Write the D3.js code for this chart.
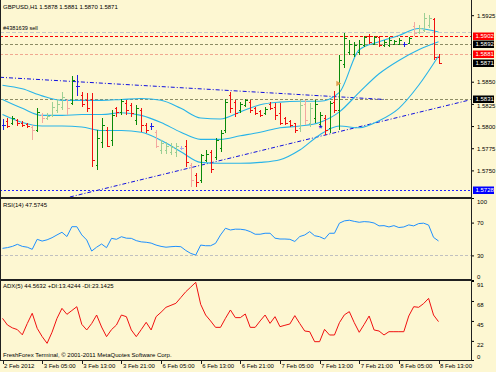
<!DOCTYPE html>
<html>
<head>
<meta charset="utf-8">
<script src="https://cdn.jsdelivr.net/npm/d3@7/dist/d3.min.js"></script>
<style>
  body { margin: 0; background: #fdf7d2; }
  svg { display: block; font-family: "Liberation Sans", Arial, sans-serif; }
</style>
</head>
<body>
<svg id="chart" width="496" height="372"></svg>
<script>
// ---- data (GBPUSD H1, 2 Feb 21:00 .. 8 Feb 13:00) ----
const dateLabels = ["2 Feb 2012", "3 Feb 05:00", "3 Feb 13:00", "3 Feb 21:00", "6 Feb 05:00", "6 Feb 13:00",
                    "6 Feb 21:00", "7 Feb 05:00", "7 Feb 13:00", "7 Feb 21:00", "8 Feb 05:00", "8 Feb 13:00"];
const dateLabelBars = [0, 8, 16, 24, 32, 40, 48, 56, 64, 72, 80, 88];

const open  = [1.5801,1.5806,1.5803,1.5807,1.5804,1.5802,1.5799,1.5795,1.5813,1.5809,1.5812,1.5818,1.5822,1.5829,1.5826,1.5845,1.5835,1.5829,1.5831,1.5756,
               1.5782,1.5795,1.5784,1.5820,1.5816,1.5826,1.5824,1.5807,1.5818,1.5801,1.5800,1.5793,1.5773,1.5773,1.5771,1.5771,1.5775,1.5778,1.5756,1.5745,
               1.5739,1.5762,1.5771,1.5765,1.5775,1.5795,1.5835,1.5827,1.5818,1.5824,1.5827,1.5820,1.5817,1.5815,1.5825,1.5822,1.5815,1.5809,1.5806,1.5803,
               1.5798,1.5825,1.5804,1.5809,1.5802,1.5809,1.5798,1.5827,1.5818,1.5870,1.5883,1.5881,1.5883,1.5891,1.5902,1.5893,1.5900,1.5891,1.5891,1.5892,
               1.5893,1.5892,1.5894,1.5913,1.5906,1.5908,1.5914,1.5921,1.5878];
const high  = [1.5808,1.5809,1.5811,1.5808,1.5806,1.5804,1.5801,1.5820,1.5815,1.5815,1.5827,1.5830,1.5838,1.5831,1.5856,1.5857,1.5838,1.5837,1.5837,1.5795,
               1.5809,1.5799,1.5818,1.5821,1.5831,1.5829,1.5826,1.5824,1.5820,1.5803,1.5804,1.5795,1.5784,1.5782,1.5781,1.5781,1.5778,1.5784,1.5758,1.5747,
               1.5769,1.5773,1.5773,1.5787,1.5795,1.5831,1.5838,1.5829,1.5827,1.5831,1.5829,1.5821,1.5818,1.5821,1.5827,1.5826,1.5826,1.5810,1.5807,1.5804,
               1.5829,1.5829,1.5826,1.5829,1.5816,1.5812,1.5828,1.5840,1.5880,1.5905,1.5897,1.5895,1.5897,1.5902,1.5904,1.5902,1.5902,1.5897,1.5900,1.5897,
               1.5899,1.5895,1.5900,1.5917,1.5914,1.5927,1.5925,1.5922,1.5881];
const low   = [1.5795,1.5798,1.5801,1.5800,1.5799,1.5798,1.5784,1.5793,1.5804,1.5807,1.5810,1.5815,1.5818,1.5812,1.5824,1.5834,1.5821,1.5816,1.5754,1.5750,
               1.5775,1.5776,1.5778,1.5810,1.5812,1.5812,1.5810,1.5801,1.5793,1.5792,1.5795,1.5775,1.5769,1.5769,1.5767,1.5765,1.5773,1.5754,1.5731,1.5731,
               1.5736,1.5759,1.5747,1.5762,1.5771,1.5792,1.5815,1.5810,1.5815,1.5821,1.5815,1.5812,1.5810,1.5812,1.5818,1.5807,1.5801,1.5801,1.5799,1.5792,
               1.5793,1.5801,1.5799,1.5804,1.5799,1.5790,1.5792,1.5815,1.5795,1.5866,1.5880,1.5878,1.5880,1.5889,1.5893,1.5891,1.5889,1.5889,1.5889,1.5891,
               1.5891,1.5889,1.5893,1.5902,1.5904,1.5906,1.5911,1.5874,1.5870];
const close = [1.5801,1.5800,1.5809,1.5803,1.5801,1.5800,1.5795,1.5816,1.5809,1.5811,1.5822,1.5825,1.5833,1.5820,1.5852,1.5845,1.5825,1.5820,1.5762,1.5787,
               1.5801,1.5778,1.5812,1.5816,1.5828,1.5818,1.5815,1.5820,1.5801,1.5795,1.5800,1.5778,1.5781,1.5778,1.5776,1.5777,1.5775,1.5759,1.5739,1.5737,
               1.5767,1.5769,1.5752,1.5784,1.5792,1.5827,1.5820,1.5815,1.5825,1.5829,1.5818,1.5815,1.5812,1.5819,1.5820,1.5812,1.5804,1.5803,1.5801,1.5795,
               1.5824,1.5807,1.5820,1.5825,1.5812,1.5795,1.5826,1.5818,1.5874,1.5899,1.5893,1.5891,1.5893,1.5900,1.5895,1.5900,1.5891,1.5895,1.5897,1.5896,
               1.5897,1.5892,1.5899,1.5905,1.5911,1.5922,1.5922,1.5878,1.5871];
// bars that show up washed out in the screenshot
const fadedBars = [6, 8, 9, 10, 11, 12, 13, 31, 32, 33, 34, 35, 36, 38, 60, 61, 62, 83, 84, 85, 86];

// Bollinger bands, read every 4 bars
const bbBars  = [0,4,8,12,16,20,24,28,32,36,40,44,48,52,56,60,64,68,72,76,80,84,88];
const bbUpper = [1.5846,1.5842,1.5834,1.5829,1.5829,1.5829,1.5830,1.5831,1.5829,1.5820,1.5809,1.5808,1.5816,1.5824,1.5827,1.5828,1.5828,1.5838,1.5886,1.5895,1.5902,1.5910,1.5906];
const bbMid   = [1.5830,1.5820,1.5812,1.5812,1.5813,1.5813,1.5815,1.5812,1.5804,1.5793,1.5785,1.5785,1.5789,1.5793,1.5798,1.5800,1.5804,1.5816,1.5838,1.5859,1.5874,1.5886,1.5895];
const bbLower = [1.5813,1.5804,1.5800,1.5800,1.5799,1.5795,1.5795,1.5793,1.5784,1.5771,1.5759,1.5758,1.5758,1.5759,1.5762,1.5773,1.5790,1.5800,1.5798,1.5806,1.5820,1.5846,1.5879];

// horizontal lines and their price tags
const levelPrices = [1.5906, 1.5902, 1.5892, 1.5881, 1.5831, 1.5728];
const tagPrices = [1.5902, 1.5892, 1.5881, 1.5871, 1.5831, 1.5728];
const priceTicks = [1.5925, 1.5850, 1.5825, 1.5800, 1.5775, 1.5750];

// trend lines: [bar, price] end points
const trendDown = [[-0.5, 1.5855], [77, 1.5830]];
const trendUp = [[13.6, 1.5720], [94, 1.5829]];

const rsi = [38.6,39.5,41,43.5,41,40,37.4,49.6,47.5,49,51.6,55,58.2,53,65,65,55,48.8,35.3,40,
             43.9,39.4,50.8,49.6,52.8,51,50.8,48,46.5,46,45,42.6,41,40,40.6,41,40.6,36,32.4,30.4,
             42.6,41.8,41.8,44.7,54.9,63.1,61,62,61.9,61.1,59,55.8,55.8,57,57,51,50,50,49.6,47,
             53,54.9,59,54,52.8,50,57,57,69.3,72.1,72.9,71.5,70.4,71.2,70.8,69.5,66,66.3,64.7,66.3,
             64,64.7,67.2,66,68.8,69.3,67,52,47.6];
const rsiTicks = [100, 70, 30, 0];

const adx = [48,40.3,37,35,29,42,53.8,36.5,27,19.2,32,48,59.5,52.6,57,61.4,41.1,34.6,42,51.8,
             38,26.9,35,40.3,51.8,49.9,34.6,26.9,35,43.4,34.6,49.9,55,60.7,63,65.3,72,78.7,84,89.5,
             64.1,51.8,45,37.6,37.6,48,57.6,48.8,48.8,53,37.6,37.6,45,51.8,42.2,49.9,38.4,40,41.5,51.1,
             42,33.4,32.6,21.1,21.1,35.3,28.8,28.8,43,52,55.7,43,31.9,41,50.7,34.6,33.4,28.8,32.6,32.6,
             32.6,32.6,50.7,61.4,60.7,65,71,51.8,44.2];
const adxTicks = [91, 68, 45, 22, 0];

// ---- layout ----
const svg = d3.select("#chart");
const plotR = 471;
const fs = 6;

const x = d3.scaleLinear().domain([0, 88]).range([2.5, 438.5]);
const yMain = d3.scaleLinear().domain([1.5720, 1.5941]).range([197, 1]);
const yRsi = d3.scaleLinear().domain([0, 100]).range([280, 198]);
const yAdx = d3.scaleLinear().domain([0, 91]).range([360, 281]);

const px = v => Math.round(v) + 0.5;

const defs = svg.append("defs");
[["clipMain", 0, 197], ["clipRsi", 198, 279], ["clipAdx", 280, 360]].forEach(([id, y0, y1]) => {
  defs.append("clipPath").attr("id", id)
    .append("rect").attr("x", 1).attr("y", y0).attr("width", plotR - 1).attr("height", y1 - y0);
});

const gMain = svg.append("g").attr("clip-path", "url(#clipMain)");

// horizontal levels
const levelStyle = [
  {c: "#c8c8c8", d: "4,2"},
  {c: "#ff0000", d: "3,2"},
  {c: "#8c8c64", d: "3,2"},
  {c: "#f0a890", d: "3,2"},
  {c: "#8c8c64", d: "3,2"},
  {c: "#2020ff", d: "2,2"}
];
gMain.selectAll(".level").data(levelPrices).enter().append("line")
  .attr("x1", 0).attr("x2", plotR)
  .attr("y1", d => px(yMain(d))).attr("y2", d => px(yMain(d)))
  .attr("stroke", (d, i) => levelStyle[i].c)
  .attr("stroke-dasharray", (d, i) => levelStyle[i].d)
  .attr("stroke-width", 1);

// trend lines
const trendLine = d3.line().x(d => x(d[0])).y(d => yMain(d[1]));
[trendDown, trendUp].forEach(t => {
  gMain.append("path").attr("d", trendLine(t))
    .attr("fill", "none").attr("stroke", "#1010e0").attr("stroke-width", 1)
    .attr("stroke-dasharray", "4,2,1,2");
});

// bollinger bands
const bbLine = d3.line().x(d => x(d[0])).y(d => yMain(d[1])).curve(d3.curveMonotoneX);
[bbUpper, bbMid, bbLower].forEach(band => {
  gMain.append("path").attr("d", bbLine(bbBars.map((b, i) => [b, band[i]])))
    .attr("fill", "none").attr("stroke", "#28b4e8").attr("stroke-width", 1.1);
});

// OHLC bars
const bars = d3.range(open.length).map(i => ({
  i, o: open[i], h: high[i], l: low[i], c: close[i], faded: fadedBars.includes(i)
}));
function barColor(d) {
  if (d.c > d.o) return d.faded ? "#9ccf94" : "#0a8a0a";
  if (d.c < d.o) return d.faded ? "#f4a8a0" : "#f01010";
  return d.faded ? "#a8a8f0" : "#2020e8";
}
const gBar = gMain.selectAll(".bar").data(bars).enter().append("g")
  .attr("stroke", barColor).attr("shape-rendering", "crispEdges");
gBar.append("line")
  .attr("x1", d => px(x(d.i))).attr("x2", d => px(x(d.i)))
  .attr("y1", d => yMain(d.h)).attr("y2", d => yMain(d.l));
gBar.append("line")
  .attr("x1", d => px(x(d.i)) - 2).attr("x2", d => px(x(d.i)))
  .attr("y1", d => px(yMain(d.o))).attr("y2", d => px(yMain(d.o)));
gBar.append("line")
  .attr("x1", d => px(x(d.i))).attr("x2", d => px(x(d.i)) + 2)
  .attr("y1", d => px(yMain(d.c))).attr("y2", d => px(yMain(d.c)));

// trade arrows
gMain.append("text").attr("x", x(64.2)).attr("y", yMain(1.5798) + 3)
  .attr("font-size", 9).attr("font-weight", "bold").attr("fill", "#1818e0").attr("text-anchor", "middle").text("*");
gMain.append("path").attr("d", d3.symbol(d3.symbolTriangle, 14)())
  .attr("transform", `translate(${x(67.7)},${yMain(1.5848)}) rotate(90)`)
  .attr("fill", "#e0a050");

svg.append("text").attr("x", 3).attr("y", 9).attr("font-size", fs).attr("fill", "#000")
  .text("GBPUSD,H1  1.5878 1.5881 1.5870 1.5871");
svg.append("text").attr("x", 3).attr("y", 30).attr("font-size", fs - 0.4).attr("fill", "#000")
  .text("#4381639 sell");

// ---- RSI ----
const gRsi = svg.append("g").attr("clip-path", "url(#clipRsi)");
gRsi.append("line").attr("x1", 0).attr("x2", plotR)
  .attr("y1", px(yRsi(30))).attr("y2", px(yRsi(30)))
  .attr("stroke", "#c0c0c0").attr("stroke-dasharray", "3,2");
gRsi.append("path").datum(rsi)
  .attr("d", d3.line().x((d, i) => x(i)).y(d => yRsi(d)))
  .attr("fill", "none").attr("stroke", "#1e90ff").attr("stroke-width", 1);
svg.append("text").attr("x", 3).attr("y", 207).attr("font-size", fs).text("RSI(14) 47.5745");

// ---- ADX ----
const gAdx = svg.append("g").attr("clip-path", "url(#clipAdx)");
gAdx.append("path").datum(adx)
  .attr("d", d3.line().x((d, i) => x(i)).y(d => yAdx(d)))
  .attr("fill", "none").attr("stroke", "#f01010").attr("stroke-width", 1);
svg.append("text").attr("x", 3).attr("y", 288).attr("font-size", fs)
  .text("ADX(5) 44.5632 +DI:13.4244 -DI:23.1425");
svg.append("text").attr("x", 3).attr("y", 357).attr("font-size", fs)
  .text("FreshForex Terminal, \u00a9 2001-2011 MetaQuotes Software Corp.");

// ---- frames ----
const frame = svg.append("g").attr("stroke", "#202020").attr("shape-rendering", "crispEdges");
frame.append("line").attr("x1", 0.5).attr("x2", 0.5).attr("y1", 0).attr("y2", 361);
frame.append("line").attr("x1", plotR + 0.5).attr("x2", plotR + 0.5).attr("y1", 0).attr("y2", 361);
[197.5, 198.5, 279.5, 280.5, 360.5].forEach(y => {
  frame.append("line").attr("x1", 0).attr("x2", plotR + 1).attr("y1", y).attr("y2", y);
});

// ---- price axis ----
const axisMain = svg.append("g").attr("transform", `translate(${plotR + 1},0)`)
  .call(d3.axisRight(yMain).tickValues(priceTicks).tickSize(2).tickPadding(3).tickFormat(d3.format(".4f")));
axisMain.select(".domain").remove();
axisMain.selectAll("text").attr("font-size", fs).attr("font-family", null)
  .attr("dy", d => d === 1.5825 ? "0.6em" : "0.35em");

const tagFill = ["#ff0000", "#000000", "#ff0000", "#000000", "#000000", "#0000ff"];
const tags = svg.selectAll(".tag").data(tagPrices).enter().append("g")
  .attr("transform", d => `translate(${plotR + 2},${Math.round(yMain(d))})`);
tags.append("rect").attr("x", 0).attr("y", -3.5).attr("width", 21).attr("height", 7.5)
  .attr("fill", (d, i) => tagFill[i]);
tags.append("text").attr("x", 2.5).attr("y", 2.2).attr("font-size", fs).attr("fill", "#fff")
  .text(d => d3.format(".4f")(d));

// ---- RSI / ADX axes ----
const axisRsi = svg.append("g").attr("transform", `translate(${plotR + 1},0)`)
  .call(d3.axisRight(yRsi).tickValues(rsiTicks).tickSize(2).tickPadding(3));
axisRsi.select(".domain").remove();
axisRsi.selectAll("text").attr("font-size", fs).attr("font-family", null)
  .attr("y", 0).attr("dy", d => d === 100 ? "0.95em" : d === 0 ? "-0.2em" : "0.35em");

const axisAdx = svg.append("g").attr("transform", `translate(${plotR + 1},0)`)
  .call(d3.axisRight(yAdx).tickValues(adxTicks).tickSize(2).tickPadding(3));
axisAdx.select(".domain").remove();
axisAdx.selectAll("text").attr("font-size", fs).attr("font-family", null)
  .attr("y", 0).attr("dy", d => d === 0 ? "-0.2em" : "0.95em");

// ---- time axis ----
const axisTime = svg.append("g").attr("transform", "translate(0,361)");
axisTime.selectAll("line").data(dateLabelBars).enter().append("line")
  .attr("x1", d => px(x(d))).attr("x2", d => px(x(d))).attr("y1", 0).attr("y2", 3)
  .attr("stroke", "#202020");
axisTime.selectAll("text").data(dateLabels).enter().append("text")
  .attr("x", (d, i) => x(dateLabelBars[i]) + 1.5).attr("y", 7)
  .attr("font-size", fs).text(d => d);
</script>
</body>
</html>
